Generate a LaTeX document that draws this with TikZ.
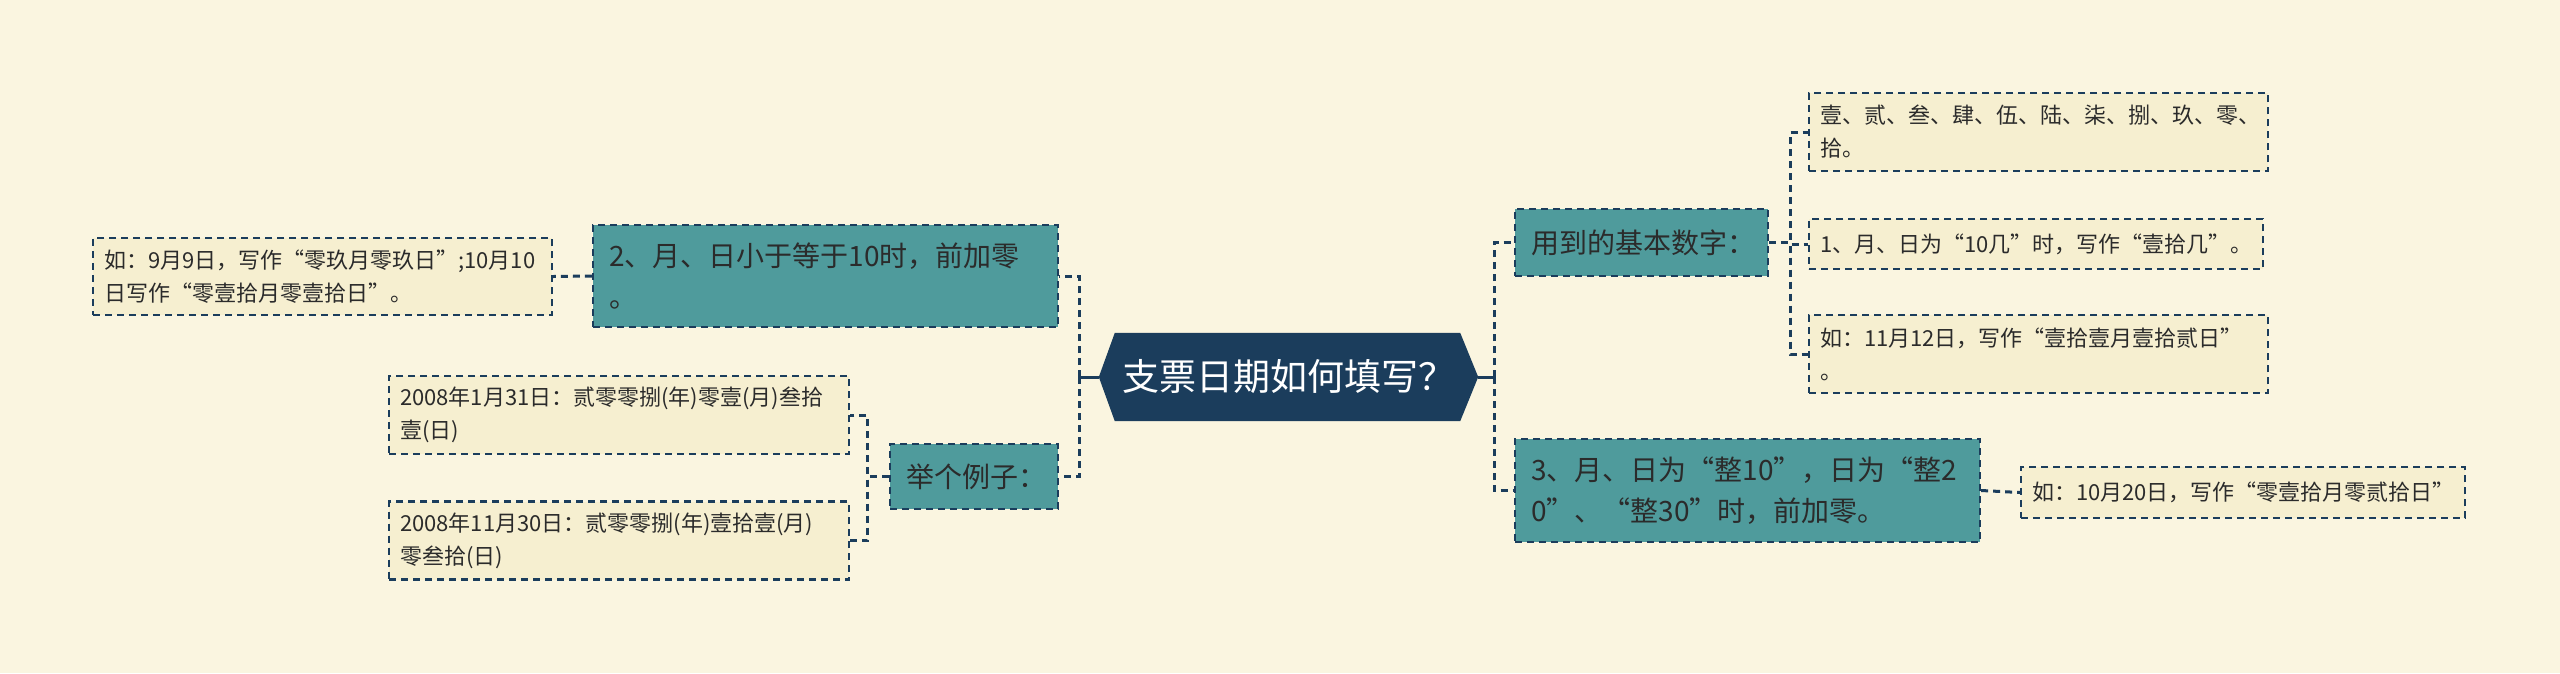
\documentclass[tikz,border=0pt]{standalone}
\usepackage{fontspec}
\setmainfont{Noto Sans CJK SC}
\usetikzlibrary{backgrounds}
\definecolor{bgcol}{HTML}{FAF5E0}
\definecolor{navy}{HTML}{1B3D5C}
\definecolor{tealbg}{HTML}{4F9B9C}
\definecolor{leafbg}{HTML}{F6EFD0}
\definecolor{ink}{HTML}{2B2B2B}
\begin{document}
\begin{tikzpicture}[x=1pt,y=-1pt,
  topic/.style={draw=navy, line width=2.2pt, dash pattern=on 7pt off 5pt, fill=tealbg, text=ink,
    font=\fontsize{28}{41}\selectfont, align=left, inner xsep=16pt, inner ysep=0pt},
  leaf/.style={draw=navy, line width=2.2pt, dash pattern=on 7pt off 5pt, fill=leafbg, text=ink,
    font=\fontsize{22}{33}\selectfont, align=left, inner xsep=11pt, inner ysep=0pt},
  link/.style={navy, line width=3pt, dash pattern=on 7pt off 5pt}]
\useasboundingbox (0,0) rectangle (2560,673);
\node[text=white, font=\fontsize{37}{42}\selectfont, minimum width=379pt, minimum height=88pt, inner sep=0pt] (root) at (1288.5,377) {支票日期如何填写？};
\node[topic, text width=433pt, minimum height=102pt] (t1) at (825.5,276) {2、月、日小于等于10时，前加零\\。};
\node[topic, text width=136pt, minimum height=65pt] (t2) at (974,476.5) {举个例子：};
\node[topic, text width=221pt, minimum height=67pt] (t3) at (1641.5,242.5) {用到的基本数字：};
\node[topic, text width=433pt, minimum height=103pt] (t4) at (1747.5,490.5) {3、月、日为“整10”，日为“整2\\0”、“整30”时，前加零。};
\node[leaf, text width=437pt, minimum height=77pt] (b1) at (322.5,276.5) {如：9月9日，写作“零玖月零玖日”;10月10\\日写作“零壹拾月零壹拾日”。};
\node[leaf, text width=438pt, minimum height=78pt] (b2) at (619,415) {2008年1月31日：贰零零捌(年)零壹(月)叁拾\\壹(日)};
\node[leaf, text width=438pt, minimum height=78pt] (b3) at (619,540.5) {2008年11月30日：贰零零捌(年)壹拾壹(月)\\零叁拾(日)};
\node[leaf, text width=437pt, minimum height=78pt] (b4) at (2038.5,132) {壹、贰、叁、肆、伍、陆、柒、捌、玖、零、\\拾。};
\node[leaf, text width=432pt, minimum height=50pt] (b5) at (2036,244) {1、月、日为“10几”时，写作“壹拾几”。};
\node[leaf, text width=437pt, minimum height=78pt] (b6) at (2038.5,354) {如：11月12日，写作“壹拾壹月壹拾贰日”\\。};
\node[leaf, text width=422pt, minimum height=51pt] (b7) at (2243,492.5) {如：10月20日，写作“零壹拾月零贰拾日”};
\begin{scope}[on background layer]
\fill[bgcol] (0,0) rectangle (2560,673);
\fill[navy] (root.west) -- ([xshift=16pt]root.north west) -- ([xshift=-18pt]root.north east) -- (root.east)
  -- ([xshift=-18pt]root.south east) -- ([xshift=16pt]root.south west) -- cycle;
\end{scope}
\coordinate (jl) at (1079,377);
\coordinate (jr) at (1494,377);
\draw[navy, line width=3pt] (root.west) -- (jl);
\draw[navy, line width=3pt] (root.east) -- (jr);
\draw[link] (jl) |- (t1.east);
\draw[link] (jl) |- (t2.east);
\draw[link] (jr) |- (t3.west);
\draw[link] (jr) |- (t4.west);
\draw[link] (t1.west) -- (b1.east);
\draw[link] (t2.west) -- ++(-21,0) |- (b2.east);
\draw[link] (t2.west) -- ++(-21,0) |- (b3.east);
\draw[link] (t3.east) -- ++(21,0) |- (b4.west);
\draw[link] (t3.east) -- ++(21,0) |- (b5.west);
\draw[link] (t3.east) -- ++(21,0) |- (b6.west);
\draw[link] (t4.east) -- (b7.west);
\end{tikzpicture}
\end{document}
